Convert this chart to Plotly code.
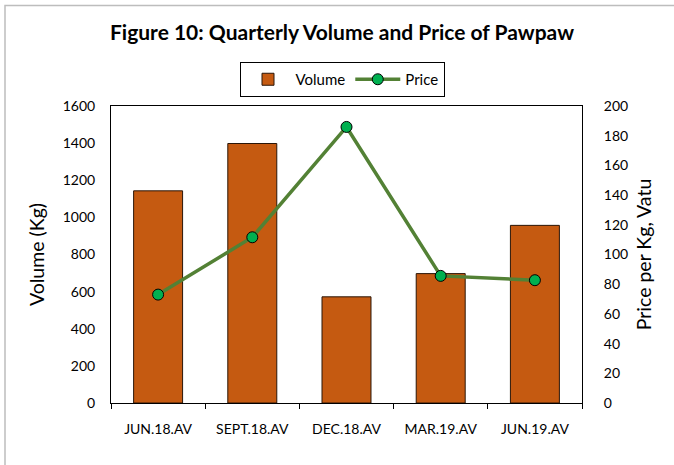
import plotly.graph_objects as go

quarters = ["JUN.18.AV", "SEPT.18.AV", "DEC.18.AV", "MAR.19.AV", "JUN.19.AV"]
volume = [1143, 1398, 572, 697, 957]
price = [73, 111.6, 185.9, 85.6, 82.7]

font = "Lato, Carlito, Calibri, sans-serif"

fig = go.Figure()

fig.add_trace(
    go.Bar(
        x=quarters,
        y=volume,
        name="Volume",
        width=0.52,
        marker=dict(color="#C55A11", line=dict(color="#2a1608", width=1)),
    )
)

fig.add_trace(
    go.Scatter(
        x=quarters,
        y=price,
        name="Price",
        yaxis="y2",
        mode="lines+markers",
        line=dict(color="#538135", width=3.5),
        marker=dict(color="#00B050", size=11, line=dict(color="#000000", width=1)),
    )
)

# plot area in px: x 111..582, y 106..403
pw, ph = 471, 297
fig.add_shape(
    type="rect",
    xref="paper",
    yref="paper",
    x0=(5 - 111) / pw,
    x1=(700 - 111) / pw,
    y0=(403 - 480) / ph,
    y1=(403 - 5.5) / ph,
    line=dict(color="#bdbdbd", width=1.5),
    layer="below",
)

fig.update_layout(
    width=674,
    height=465,
    margin=dict(l=111, r=92, t=106, b=62, autoexpand=False),
    paper_bgcolor="white",
    plot_bgcolor="white",
    font=dict(family=font, size=14, color="#000000"),
    title=dict(
        text="<b>Figure 10: Quarterly Volume and Price of Pawpaw</b>",
        x=342 / 674,
        xanchor="center",
        xref="container",
        y=1 - 33 / 465,
        yanchor="middle",
        font=dict(size=21, family=font),
    ),
    showlegend=True,
    legend=dict(
        orientation="h",
        x=(342 - 111) / pw,
        xanchor="center",
        y=(403 - 62) / ph,
        yanchor="top",
        bordercolor="#000000",
        borderwidth=1,
        font=dict(size=15),
        itemwidth=45,
    ),
    xaxis=dict(
        type="category",
        showline=True,
        linecolor="#000000",
        linewidth=1,
        mirror=True,
        ticks="outside",
        tickson="boundaries",
        ticklen=5,
        tickcolor="#000000",
        showgrid=False,
        ticklabelstandoff=13,
    ),
    yaxis=dict(
        range=[0, 1600],
        dtick=200,
        showline=True,
        linecolor="#000000",
        linewidth=1,
        showgrid=False,
        zeroline=False,
        title=dict(text="Volume (Kg)", font=dict(size=19.5), standoff=12),
        ticks="",
        ticklabelstandoff=12,
    ),
    yaxis2=dict(
        range=[0, 200],
        dtick=20,
        overlaying="y",
        side="right",
        showline=True,
        linecolor="#000000",
        linewidth=1,
        showgrid=False,
        zeroline=False,
        title=dict(text="Price per Kg, Vatu", font=dict(size=19.5), standoff=10),
        ticks="",
        ticklabelstandoff=18,
    ),
)

fig.write_html(
    "out.html",
    config={"displayModeBar": False},
    post_script="document.body.style.margin='0';",
)
